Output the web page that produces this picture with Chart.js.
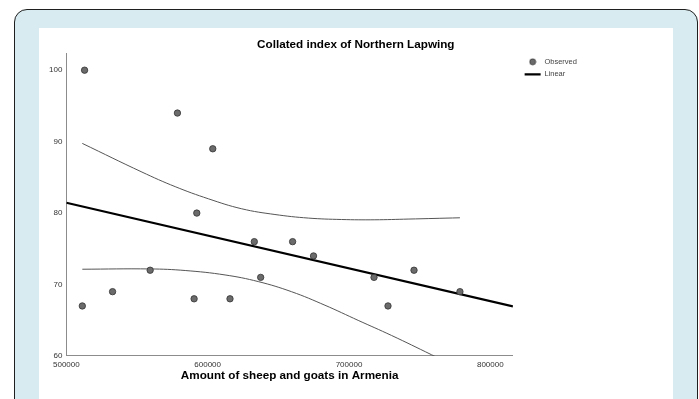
<!DOCTYPE html>
<html>
<head>
<meta charset="utf-8">
<title>Collated index of Northern Lapwing</title>
<script src="https://cdn.jsdelivr.net/npm/chart.js@4.4.1/dist/chart.umd.min.js"></script>
<style>
  html, body { margin: 0; padding: 0; background: #fff; }
  body { width: 699px; height: 399px; position: relative; overflow: hidden; }
  .frame {
    position: absolute; left: 14px; top: 9px; right: 1px; height: 430px;
    box-sizing: border-box; border: 1.5px solid #1f1f1f;
    border-radius: 13px 13px 0 0; background: #d8ebf0;
  }
  .panel { position: absolute; left: 39px; top: 28px; width: 634px; height: 400px; background: #fff; }
  #chart { position: absolute; left: 0; top: 0; }
</style>
</head>
<body>
<div class="frame"></div>
<div class="panel"></div>
<canvas id="chart" width="699" height="399"></canvas>
<script>
// ============================================
// DATA
// ============================================
const chartTitle = 'Collated index of Northern Lapwing';
const xTitle = 'Amount of sheep and goats in Armenia';

// observed points: sheep & goats vs. collated index
const obsX = [512900, 578600, 603600, 592300, 633000, 660100, 674900, 559300, 637500,
              532700, 511300, 590400, 615800, 717700, 746000, 727600, 778500];
const obsY = [100, 94, 89, 80, 76, 76, 74, 72, 71, 69, 67, 68, 68, 71, 72, 67, 69];

// linear fit, drawn across the whole axis
const linX = [500000, 816000];
const linY = [81.45, 66.95];

// confidence band, upper and lower curves
const upperX = [511300, 553500, 577000, 600500, 624100, 647600, 671200, 694700, 718300, 741800, 778500];
const upperY = [89.75, 85.74, 83.7, 82.0, 80.6, 79.8, 79.3, 79.1, 79.06, 79.16, 79.34];
const lowerX = [511300, 559300, 584100, 612300, 635800, 659400, 683000, 706500, 730100, 758300, 778500];
const lowerY = [72.14, 72.18, 71.96, 71.34, 70.41, 68.99, 67.10, 64.98, 62.87, 60.18, 58.2];

// axes
const xTicks = [500000, 600000, 700000, 800000];
const yTicks = [60, 70, 80, 90, 100];
const xMin = 500000, xMax = 816000;
const yMin = 60, yMax = 102.4;

const toPoints = (xs, ys) => xs.map((x, i) => ({ x: x, y: ys[i] }));

// ============================================
// LEGEND MARKER (round dot, the legend stretches built-in circles)
// ============================================
function makeDot(r, fill, stroke) {
  const c = document.createElement('canvas');
  const s = 8;
  c.width = s;
  c.height = s;
  const g = c.getContext('2d');
  g.beginPath();
  g.arc(s / 2, s / 2, r, 0, Math.PI * 2);
  g.fillStyle = fill;
  g.fill();
  g.lineWidth = 0.8;
  g.strokeStyle = stroke;
  g.stroke();
  return c;
}
const legendDot = makeDot(3, '#6b6b6b', '#333');

// ============================================
// CHART
// ============================================
Chart.defaults.font.family = "'Liberation Sans', Arial, sans-serif";
Chart.defaults.color = '#333';

const bandStyle = {
  type: 'line',
  borderColor: '#555',
  borderWidth: 1,
  pointRadius: 0,
  fill: false,
  tension: 0.4,
  yAxisID: 'y'
};

new Chart(document.getElementById('chart'), {
  type: 'scatter',
  data: {
    datasets: [
      {
        label: 'Observed',
        data: toPoints(obsX, obsY),
        pointRadius: 3.2,
        pointStyle: 'circle',
        backgroundColor: '#6b6b6b',
        borderColor: '#333',
        borderWidth: 0.8,
        yAxisID: 'y',
        order: 0
      },
      {
        label: 'Linear',
        type: 'line',
        data: toPoints(linX, linY),
        borderColor: '#000',
        borderWidth: 2.2,
        pointRadius: 0,
        pointStyle: 'line',
        pointBorderWidth: 2.2,
        fill: false,
        yAxisID: 'y',
        order: 1
      },
      Object.assign({ label: 'Upper bound', data: toPoints(upperX, upperY), order: 2 }, bandStyle),
      Object.assign({ label: 'Lower bound', data: toPoints(lowerX, lowerY), order: 3 }, bandStyle)
    ]
  },
  options: {
    responsive: false,
    animation: false,
    events: [],
    layout: { padding: { top: 38, left: 45, right: 32.4, bottom: 9.4 } },
    plugins: {
      title: {
        display: true,
        text: chartTitle,
        color: '#000',
        font: { size: 11.7, weight: 'bold' },
        padding: { top: 0, bottom: 1 }
      },
      legend: {
        position: 'right',
        align: 'start',
        fullSize: false,
        labels: {
          usePointStyle: true,
          pointStyleWidth: 16,
          boxHeight: 4.3,
          padding: 5,
          color: '#444',
          font: { size: 7.5 },
          generateLabels: (chart) => Chart.defaults.plugins.legend.labels.generateLabels(chart)
            .filter(item => item.datasetIndex < 2)
            .map(item => {
              if (item.datasetIndex === 0) item.pointStyle = legendDot;
              return item;
            })
        }
      },
      tooltip: { enabled: false }
    },
    scales: {
      x: {
        type: 'linear',
        position: 'bottom',
        min: xMin,
        max: xMax,
        afterBuildTicks: (scale) => { scale.ticks = xTicks.map(v => ({ value: v })); },
        grid: { display: false, drawTicks: false },
        border: { display: true, color: '#8c8c8c', width: 1 },
        ticks: { padding: 4, font: { size: 8 }, color: '#333', maxRotation: 0, callback: (v) => String(v) },
        title: {
          display: true,
          text: xTitle,
          color: '#000',
          font: { size: 11.7, weight: 'bold' },
          padding: { top: -4.6, bottom: 6.6 }
        }
      },
      y: {
        type: 'linear',
        position: 'left',
        min: yMin,
        max: yMax,
        afterBuildTicks: (scale) => { scale.ticks = yTicks.map(v => ({ value: v })); },
        grid: { display: false, drawTicks: false },
        border: { display: true, color: '#8c8c8c', width: 1 },
        ticks: { padding: 4, font: { size: 8 }, color: '#333', callback: (v) => String(v) }
      },
      // empty right-hand axes that only hold space around the legend
      gap: {
        type: 'linear', position: 'right', weight: 0,
        grid: { display: false, drawTicks: false }, border: { display: false }, ticks: { display: false },
        afterFit: (scale) => { scale.width = 6.7; }
      },
      spacer: {
        type: 'linear', position: 'right', weight: 2000,
        grid: { display: false, drawTicks: false }, border: { display: false }, ticks: { display: false },
        afterFit: (scale) => { scale.width = 79.7; }
      }
    }
  }
});
</script>
</body>
</html>
